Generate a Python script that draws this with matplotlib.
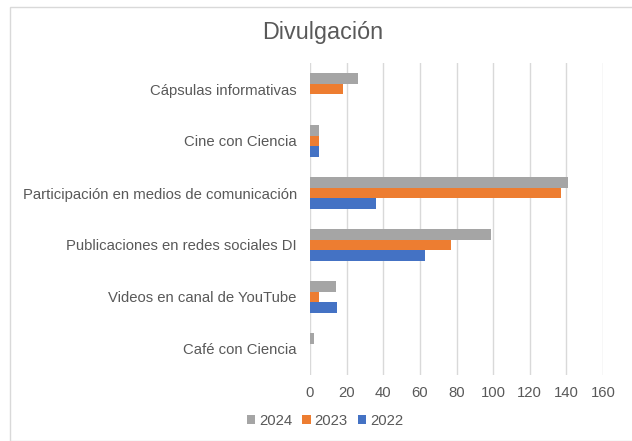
import matplotlib
matplotlib.use("Agg")
import matplotlib.pyplot as plt
import numpy as np
from matplotlib.patches import Rectangle

plt.rcParams['font.family'] = ['Liberation Sans', 'DejaVu Sans']

categories = ["Cápsulas informativas", "Cine con Ciencia",
              "Participación en medios de comunicación",
              "Publicaciones en redes sociales DI",
              "Videos en canal de YouTube", "Café con Ciencia"]
years = ["2024", "2023", "2022"]
v2024 = [26, 5, 141, 99, 14, 2]
v2023 = [18, 5, 137, 77, 5, 0]
v2022 = [0, 5, 36, 63, 15, 0]
colors = ["#a5a5a5", "#ed7d31", "#4472c4"]

txt = "#595959"
fig = plt.figure(figsize=(6.32, 4.41), dpi=100)
fig.patches.append(Rectangle((10/632, 0), 1, 1 - 7/441, transform=fig.transFigure,
                             fill=False, edgecolor="#d9d9d9", lw=1))
ax = fig.add_axes([310/632, 1 - 375/441, 293/632, 312/441])

y = np.arange(len(categories))
h = 0.205
for i, (vals, c, lab) in enumerate(zip([v2024, v2023, v2022], colors, years)):
    ax.barh(y - h + i * h, vals, height=h, color=c, label=lab, zorder=3)

ax.set_ylim(len(categories) - 0.5, -0.5)
ax.set_xlim(0, 160)
ax.set_xticks(np.arange(0, 161, 20))
ax.set_yticks(y)
ax.set_yticklabels(categories)
ax.tick_params(length=0, colors=txt, labelsize=10.7)
ax.tick_params(axis='y', pad=9.5)
ax.tick_params(axis='x', pad=8)
ax.grid(axis='x', color="#d9d9d9", lw=1, zorder=0)
for s in ax.spines.values():
    s.set_visible(False)

fig.text(323/632, 1 - 32/441, "Divulgación", ha="center", va="center",
         fontsize=16.8, color=txt)
fig.legend(loc="center", bbox_to_anchor=(325/632, 1 - 421/441), ncol=3,
           frameon=False, fontsize=10.7, labelcolor=txt, handlelength=0.55,
           handleheight=0.55, handletextpad=0.25, columnspacing=0.7)

fig.savefig("out.png", dpi=100)
